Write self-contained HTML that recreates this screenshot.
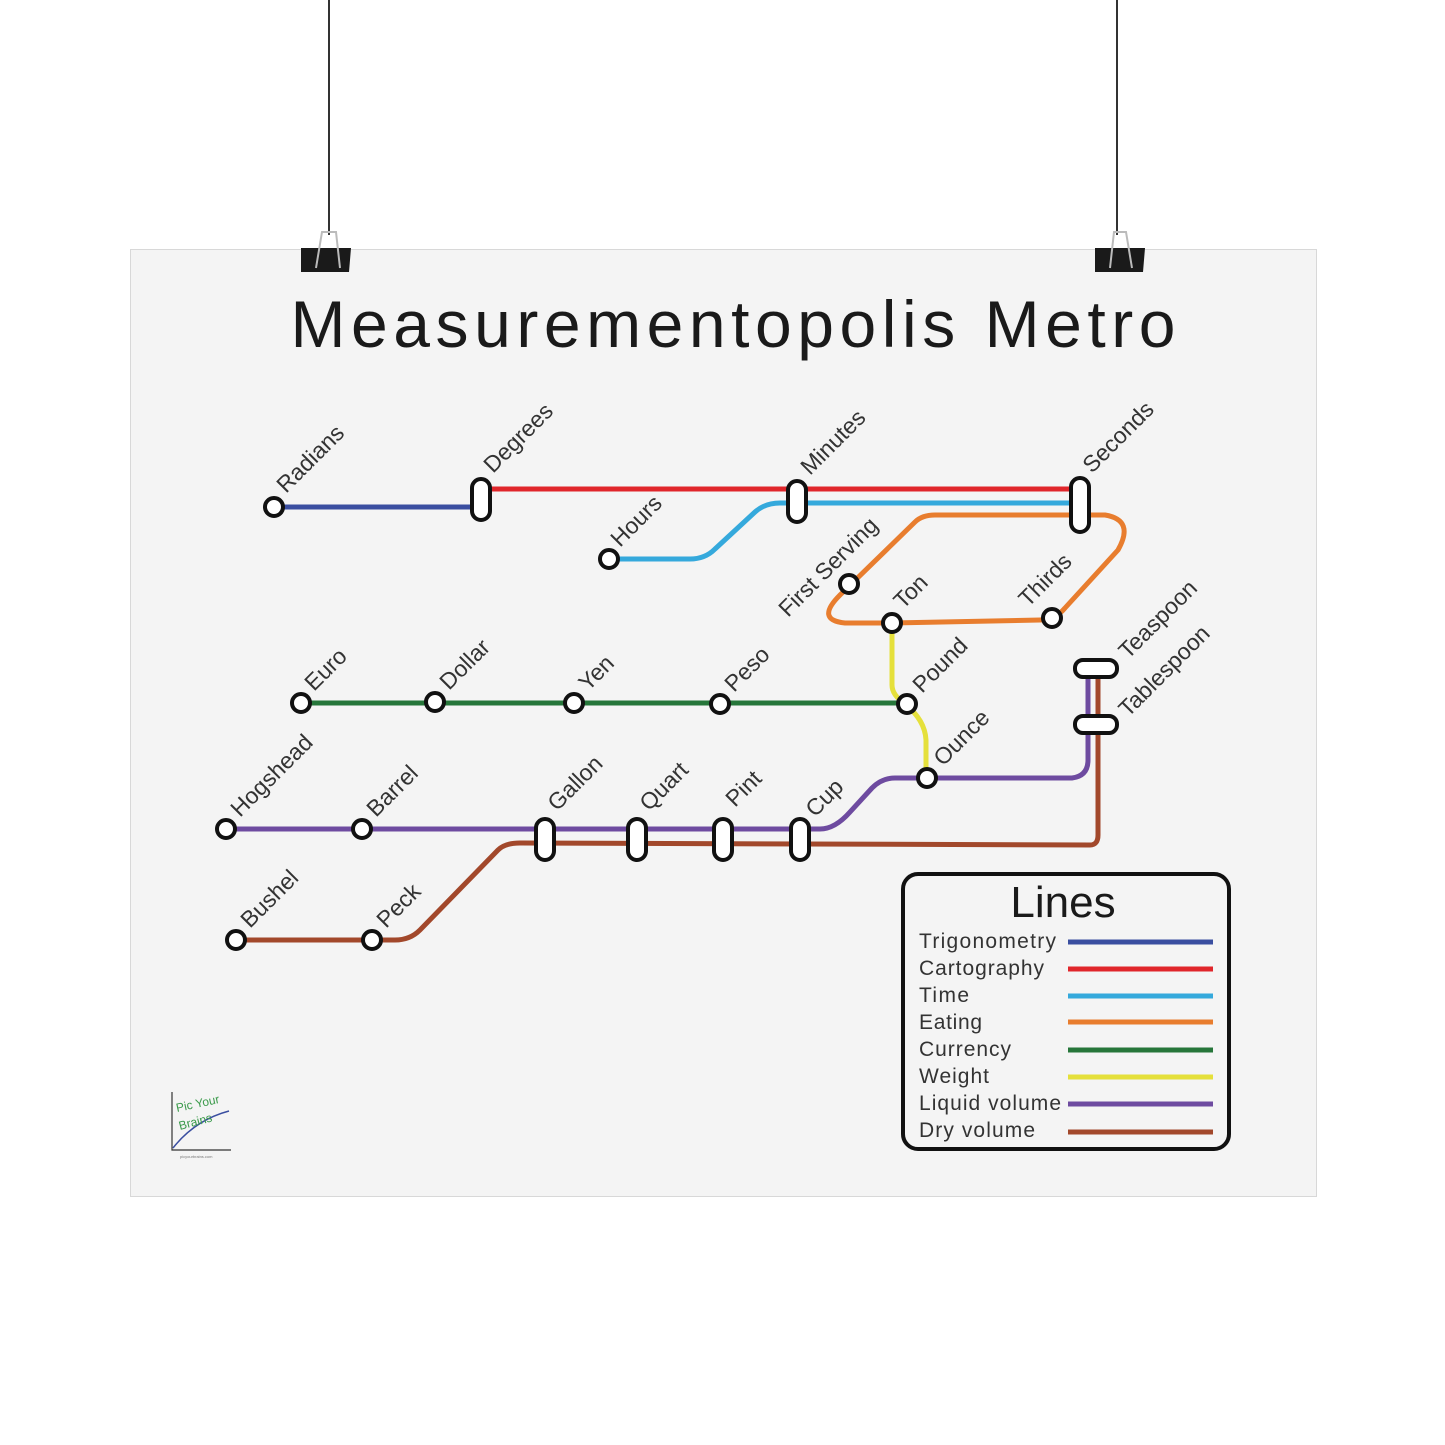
<!DOCTYPE html>
<html><head><meta charset="utf-8"><style>
html,body{margin:0;padding:0;background:#fff;}
svg{display:block}
text{font-family:"Liberation Sans",sans-serif;fill:#333}
</style></head><body>
<svg width="1445" height="1445" viewBox="0 0 1445 1445" xmlns="http://www.w3.org/2000/svg">
<rect x="0" y="0" width="1445" height="1445" fill="#fff"/>
<rect x="130.5" y="249.5" width="1186" height="947" fill="#f4f4f4" stroke="#d8d8d8" stroke-width="1"/>
<line x1="329" y1="0" x2="329" y2="235" stroke="#333" stroke-width="2"/>
<line x1="1117" y1="0" x2="1117" y2="235" stroke="#333" stroke-width="2"/>
<g fill="#1a1a1a">
<path d="M301 248 L351 248 L349 272 L301 272 Z"/>
<path d="M1095 248 L1145 248 L1143 272 L1095 272 Z"/>
</g>
<g fill="none" stroke="#bbb" stroke-width="2">
<path d="M316 268 L322 232 L336 232 L340 268"/>
<path d="M1110 268 L1114 232 L1126 232 L1132 268"/>
</g>
<text x="733" y="347" font-size="66" text-anchor="middle" textLength="885" style="fill:#1a1a1a">Measurementopolis Metro</text>

<g fill="none" stroke-width="5" stroke-linecap="round" stroke-linejoin="round">
<path d="M274 507 H481" stroke="#3a4ea0"/>
<path d="M481 489 H1080" stroke="#e0262b"/>
<path d="M609 559 H690 Q705 559 715 549 L755 512 Q765 503 780 503 H1080" stroke="#35a9dc"/>
<path d="M1080 515 H1105 Q1135 520 1118 550 L1065 608 Q1055 620 1040 620 L892 623 H845 Q815 620 840 595 L915 522 Q922 515 935 515 H1080" stroke="#e87d2e"/>
<path d="M892 623 V685 Q892 695 905 704 Q925 720 926 740 V778" stroke="#e5e03b"/>
<path d="M301 703 H907" stroke="#26763a"/>
<path d="M226 829 H820 Q835 829 850 812 L872 788 Q882 778 895 778 H1072 Q1088 776 1088 760 V668" stroke="#6e4ba0"/>
<path d="M236 940 H395 Q410 940 420 930 L498 850 Q505 843 520 843 L1090 845 Q1098 845 1098 835 V678" stroke="#a2482b"/>
</g>

<g fill="#fff" stroke="#111" stroke-width="4">
<circle cx="274" cy="507" r="9"/>
<circle cx="609" cy="559" r="9"/>
<circle cx="849" cy="584" r="9"/>
<circle cx="892" cy="623" r="9"/>
<circle cx="1052" cy="618" r="9"/>
<circle cx="301" cy="703" r="9"/>
<circle cx="435" cy="702" r="9"/>
<circle cx="574" cy="703" r="9"/>
<circle cx="720" cy="704" r="9"/>
<circle cx="907" cy="704" r="9"/>
<circle cx="927" cy="778" r="9"/>
<circle cx="226" cy="829" r="9"/>
<circle cx="362" cy="829" r="9"/>
<circle cx="236" cy="940" r="9"/>
<circle cx="372" cy="940" r="9"/>
<rect x="472" y="479" width="18" height="41" rx="9"/>
<rect x="788" y="481" width="18" height="41" rx="9"/>
<rect x="1071" y="478" width="18" height="54" rx="9"/>
<rect x="536" y="819" width="18" height="41" rx="9"/>
<rect x="628" y="819" width="18" height="41" rx="9"/>
<rect x="714" y="819" width="18" height="41" rx="9"/>
<rect x="791" y="819" width="18" height="41" rx="9"/>
<rect x="1075" y="660" width="42" height="17" rx="8"/>
<rect x="1075" y="716" width="42" height="17" rx="8"/>
</g>

<g font-size="23">
<text transform="translate(286,494) rotate(-45)">Radians</text>
<text transform="translate(493,474) rotate(-45)">Degrees</text>
<text transform="translate(620,548) rotate(-45)">Hours</text>
<text transform="translate(810,476) rotate(-45)">Minutes</text>
<text transform="translate(1092,474) rotate(-45)">Seconds</text>
<text transform="translate(788,618) rotate(-45)">First Serving</text>
<text transform="translate(903,610) rotate(-45)">Ton</text>
<text transform="translate(1028,608) rotate(-45)">Thirds</text>
<text transform="translate(1128,660) rotate(-45)">Teaspoon</text>
<text transform="translate(1128,718) rotate(-45)">Tablespoon</text>
<text transform="translate(314,692) rotate(-45)">Euro</text>
<text transform="translate(449,691) rotate(-45)">Dollar</text>
<text transform="translate(588,692) rotate(-45)">Yen</text>
<text transform="translate(734,693) rotate(-45)">Peso</text>
<text transform="translate(922,694) rotate(-45)">Pound</text>
<text transform="translate(943,767) rotate(-45)">Ounce</text>
<text transform="translate(240,818) rotate(-45)">Hogshead</text>
<text transform="translate(376,818) rotate(-45)">Barrel</text>
<text transform="translate(557,812) rotate(-45)">Gallon</text>
<text transform="translate(649,812) rotate(-45)">Quart</text>
<text transform="translate(735,808) rotate(-45)">Pint</text>
<text transform="translate(815,818) rotate(-45)">Cup</text>
<text transform="translate(250,929) rotate(-45)">Bushel</text>
<text transform="translate(386,929) rotate(-45)">Peck</text>
</g>

<rect x="903" y="874" width="326" height="275" rx="15" fill="none" stroke="#111" stroke-width="4"/>
<text x="1063" y="917" font-size="44" text-anchor="middle" style="fill:#1a1a1a">Lines</text>
<g font-size="21">
<text x="919" y="948" textLength="137">Trigonometry</text>
<text x="919" y="975" textLength="125">Cartography</text>
<text x="919" y="1002" textLength="50">Time</text>
<text x="919" y="1029" textLength="63">Eating</text>
<text x="919" y="1056" textLength="92">Currency</text>
<text x="919" y="1083" textLength="70">Weight</text>
<text x="919" y="1110" textLength="142">Liquid volume</text>
<text x="919" y="1137" textLength="116">Dry volume</text>
</g>
<g stroke-width="5">
<line x1="1068" y1="942" x2="1213" y2="942" stroke="#3a4ea0"/>
<line x1="1068" y1="969" x2="1213" y2="969" stroke="#e0262b"/>
<line x1="1068" y1="996" x2="1213" y2="996" stroke="#35a9dc"/>
<line x1="1068" y1="1022" x2="1213" y2="1022" stroke="#e87d2e"/>
<line x1="1068" y1="1050" x2="1213" y2="1050" stroke="#26763a"/>
<line x1="1068" y1="1077" x2="1213" y2="1077" stroke="#e5e03b"/>
<line x1="1068" y1="1104" x2="1213" y2="1104" stroke="#6e4ba0"/>
<line x1="1068" y1="1132" x2="1213" y2="1132" stroke="#a2482b"/>
</g>

<g>
<path d="M172 1092 V1150 H231" fill="none" stroke="#333" stroke-width="1.2"/>
<path d="M173 1148 Q195 1120 229 1111" fill="none" stroke="#3a4ea0" stroke-width="1.5"/>
<text x="177" y="1112" font-size="12" style="fill:#3a9a4a" transform="rotate(-12 177 1112)">Pic Your</text>
<text x="180" y="1130" font-size="12" style="fill:#3a9a4a" transform="rotate(-15 180 1130)">Brains</text>
<text x="180" y="1158" font-size="4" style="fill:#777">picyourbrains.com</text>
</g>
</svg>
</body></html>
